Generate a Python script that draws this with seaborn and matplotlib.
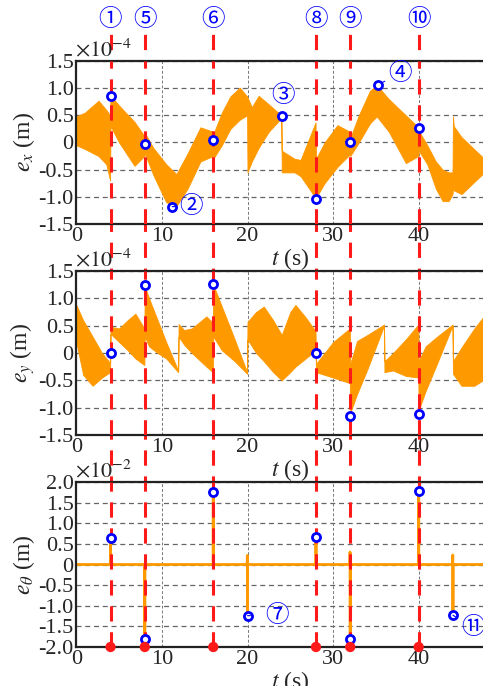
import numpy as np
import pandas as pd
import matplotlib
matplotlib.use("Agg")
import matplotlib.pyplot as plt
import matplotlib.transforms as mtransforms
import seaborn as sns

# switching instants (red dashed lines) and their circled labels
switch_t = [4, 8, 16, 28, 32, 40]
switch_labels = ["①", "⑤", "⑥", "⑧", "⑨", "⑩"]

# e_x band (x1e-4): time, upper envelope, lower envelope
ex_t = [0, 1.0, 2.6, 3.5, 3.95,
        4.0, 5.0, 6.8, 7.95,
        8.0, 9.0, 10.5, 11.7, 13.0, 14.5, 15.95,
        16.0, 17.0, 18.0, 19.1, 19.95,
        20.0, 20.5, 21.3, 22.5, 23.95,
        24.0, 25.5, 26.2, 27.95,
        28.0, 29.0, 30.5, 31.95,
        32.0, 33.0, 34.3, 35.1, 36.5, 38.5, 39.95,
        40.0, 41.0, 42.0, 42.8, 43.5, 43.95,
        44.0, 44.1, 45.0, 46.0, 48.0, 50.0]
ex_hi = [0.48, 0.55, 0.77, 0.6, 0.5,
         0.87, 0.68, 0.38, 0.12,
         0.18, -0.1, -0.4, -0.58, -0.2, 0.28, 0.2,
         0.15, 0.55, 0.85, 1.01, 0.85,
         0.83, 0.65, 0.86, 0.7, 0.5,
         -0.15, -0.3, -0.32, 0.37,
         -0.3, 0.0, 0.32, 0.2,
         0.08, 0.5, 0.95, 1.06, 0.8, 0.5, 0.28,
         0.22, -0.05, -0.35, -0.5, -0.55, -0.55,
         0.48, 0.3, 0.1, -0.05, -0.35, -0.4]
ex_lo = [-0.05, -0.12, -0.25, -0.4, -0.7,
         0.3, 0.0, -0.43, -0.25,
         -0.2, -0.6, -1.1, -1.17, -0.85, -0.35, -0.25,
         -0.3, -0.05, 0.25, 0.42, 0.5,
         -0.55, -0.35, -0.1, 0.2, 0.45,
         -0.55, -0.55, -0.62, -1.02,
         -1.02, -0.75, -0.45, -0.22,
         -0.25, 0.0, 0.35, 0.48, 0.2, -0.38, -0.25,
         -0.15, -0.4, -0.85, -1.08, -1.08, -0.95,
         -0.85, -0.88, -0.95, -0.8, -0.5, -0.45]

# e_y band (x1e-4)
ey_t = [0, 0.8, 1.9, 3.0, 3.95,
        4.0, 5.0, 6.0, 6.9, 7.95,
        8.0, 8.5, 9.5, 10.5, 11.9,
        11.95, 12.6, 13.5, 15.2, 15.95,
        16.0, 17.0, 18.5, 19.95,
        20.0, 21.0, 21.9, 23.0, 24.0, 25.0, 25.6, 26.8, 27.95,
        28.0, 29.0, 30.0, 31.95,
        32.0, 32.8, 34.0, 35.95,
        36.0, 37.0, 38.5, 39.95,
        40.0, 40.8, 42.0, 43.95,
        44.0, 45.0, 46.5, 48.0, 50.0]
ey_hi = [0.88, 0.6, 0.3, 0.0, -0.18,
         0.48, 0.45, 0.6, 0.72, 0.45,
         1.22, 1.0, 0.6, 0.2, -0.32,
         0.53, 0.42, 0.45, 0.67, 0.55,
         1.25, 0.85, 0.25, -0.35,
         0.57, 0.75, 0.85, 0.6, 0.33, 0.75, 0.88, 0.65, 0.4,
         -0.2, 0.0, 0.2, 0.45,
         -0.2, 0.22, 0.33, 0.52,
         -0.15, 0.0, 0.25, 0.52,
         -0.15, 0.12, 0.28, 0.52,
         -0.15, 0.1, 0.45, 0.75, 0.9]
ey_lo = [0.2, -0.4, -0.6, -0.45, -0.35,
         0.35, 0.2, 0.05, -0.1, -0.22,
         0.3, 0.12, 0.0, -0.1, -0.35,
         0.3, 0.15, 0.0, -0.25, -0.35,
         0.3, 0.05, -0.15, -0.38,
         0.25, 0.0, -0.15, -0.35, -0.5, -0.35, -0.25, -0.1, 0.05,
         -0.35, -0.4, -0.45, -0.55,
         -1.1, -0.75, -0.3, 0.5,
         -0.35, -0.32, -0.42, -0.45,
         -1.05, -0.7, -0.25, 0.5,
         -0.38, -0.6, -0.6, -0.45, -0.3]

# e_theta trace (x1e-2)
eth_t = [0, 3.98, 4.0, 4.02, 7.98, 8.0, 8.02, 15.98, 16.0, 16.02,
         19.96, 19.98, 20.0, 20.02, 27.98, 28.0, 28.02,
         31.96, 31.98, 32.0, 32.02, 39.98, 40.0, 40.02,
         43.96, 43.98, 44.0, 44.02, 50.0]
eth_v = [0, 0, 0.65, 0, 0, -1.8, 0, 0, 1.76, 0,
         0, 0.22, -1.24, 0, 0, 0.67, 0,
         0, 0.3, -1.8, 0, 0, 1.77, 0,
         0, 0.23, -1.23, 0, 0]

# blue circle markers
ex_pts_t = [4, 8, 11.2, 16, 24, 28, 32, 35.2, 40]
ex_pts_v = [0.86, -0.02, -1.18, 0.04, 0.49, -1.04, 0.0, 1.06, 0.27]
ey_pts_t = [4, 8, 16, 28, 32, 40]
ey_pts_v = [0.0, 1.24, 1.26, 0.0, -1.15, -1.12]
eth_pts_t = [4, 8, 16, 20, 28, 32, 40, 44]
eth_pts_v = [0.65, -1.81, 1.76, -1.24, 0.67, -1.80, 1.77, -1.23]

# callouts: (label, point t, point v, text t, text v, leader line)
ex_notes = [("②", 11.2, -1.18, 13.4, -1.18, True),
            ("③", 24.0, 0.49, 24.1, 0.87, False),
            ("④", 35.2, 1.06, 37.8, 1.27, True)]
eth_notes = [("⑦", 20.0, -1.24, 23.4, -1.24, True),
             ("⑪", 44.0, -1.23, 46.3, -1.52, True)]

ylab_12 = ["-1.5", "-1.0", "-0.5", "0", "0.5", "1.0", "1.5"]
ylab_3 = ["-2.0", "-1.5", "-1.0", "-0.5", "0", "0.5", "1.0", "1.5", "2.0"]
xticks = [0, 10, 20, 30, 40]

ORANGE = "#ff9900"
BLUE = "#0000ff"
RED = "#ff1a1a"
CJK = ["Noto Sans CJK JP", "DejaVu Sans"]
SERIF = ["Liberation Serif", "DejaVu Serif"]

sns.set_theme(style="white")
plt.rcParams["font.family"] = SERIF
plt.rcParams["mathtext.fontset"] = "stix"

W, H = 483, 686
X0, XW = 76.3, 428.0
fig = plt.figure(figsize=(W / 100, H / 100), dpi=100)


def rect(top_px, bot_px):
    return [X0 / W, 1 - bot_px / H, XW / W, (bot_px - top_px) / H]


# red dashed lines spanning the whole figure (underneath the panels)
ov = fig.add_axes(rect(30, 647), zorder=-1)
ov.set_xlim(0, 50)
ov.set_ylim(0, 1)
ov.axis("off")
ov.vlines(switch_t, 0, 1, colors=RED, lw=2.2, linestyles=(0, (5, 3.5)))
tr = mtransforms.blended_transform_factory(ov.transData, fig.transFigure)
for t, lab in zip(switch_t, switch_labels):
    ov.text(t, 1 - 20 / H, lab, transform=tr, ha="center", va="center",
            color=BLUE, fontsize=17, family=CJK)

panels = [fig.add_axes(rect(61, 224)), fig.add_axes(rect(271, 435)),
          fig.add_axes(rect(482, 647))]


def style(ax, ylim, yticks, ylabels, ylabel, expo):
    ax.set_facecolor("white")
    ax.set_xlim(0, 50)
    ax.set_ylim(*ylim)
    ax.set_xticks(xticks)
    ax.set_xticklabels([str(x) for x in xticks], fontsize=16, family=SERIF)
    ax.set_yticks(yticks)
    ax.set_yticklabels(ylabels, fontsize=16, family=SERIF)
    ax.tick_params(length=0, pad=2)
    ax.yaxis.grid(True, ls=(0, (4, 3)), color="#666666", lw=0.9)
    ax.xaxis.grid(True, ls=(0, (3, 2)), color="#777777", lw=0.7)
    ax.set_axisbelow(True)
    for s in ax.spines.values():
        s.set_color("#222222")
        s.set_linewidth(1.6)
    ax.set_xlabel(r"$t$ (s)", fontsize=17, labelpad=0, family=SERIF)
    ax.set_ylabel(ylabel, fontsize=17, labelpad=1, family=SERIF)
    ax.text(-0.003, 1.0, r"$\times10^{%d}$" % expo, transform=ax.transAxes,
            ha="left", va="bottom", fontsize=16)
    for t in switch_t:
        ax.axvline(t, color=RED, lw=2.2, ls=(0, (5, 3.5)), zorder=3)


def circles(ax, t, v):
    sns.scatterplot(x=t, y=v, ax=ax, marker="o", s=34, facecolor="white",
                    edgecolor=BLUE, linewidth=2, zorder=5, clip_on=False)


def notes(ax, items):
    for lab, pt, pv, tt, tv, line in items:
        ax.annotate(lab, xy=(pt, pv), xytext=(tt, tv), ha="center", va="center",
                    color=BLUE, fontsize=17, family=CJK, zorder=6,
                    arrowprops=dict(arrowstyle="-", color=BLUE, lw=0.8,
                                    shrinkA=8, shrinkB=4) if line else None)


ax1, ax2, ax3 = panels
yt12 = [-1.5, -1.0, -0.5, 0, 0.5, 1.0, 1.5]
style(ax1, (-1.5, 1.5), yt12, ylab_12, r"$e_x$ (m)", -4)
ax1.fill_between(ex_t, ex_lo, ex_hi, color=ORANGE, lw=0.6, zorder=2)
circles(ax1, ex_pts_t, ex_pts_v)
notes(ax1, ex_notes)

style(ax2, (-1.5, 1.5), yt12, ylab_12, r"$e_y$ (m)", -4)
ax2.fill_between(ey_t, ey_lo, ey_hi, color=ORANGE, lw=0.6, zorder=2)
circles(ax2, ey_pts_t, ey_pts_v)

yt3 = [-2.0, -1.5, -1.0, -0.5, 0, 0.5, 1.0, 1.5, 2.0]
style(ax3, (-2.0, 2.0), yt3, ylab_3, r"$e_\theta$ (m)", -2)
sns.lineplot(x=eth_t, y=eth_v, ax=ax3, color=ORANGE, lw=2, estimator=None,
             sort=False, zorder=2)
circles(ax3, eth_pts_t, eth_pts_v)
sns.scatterplot(x=switch_t, y=[-2.0] * len(switch_t), ax=ax3, color=RED,
                s=55, edgecolor="none", zorder=6, clip_on=False)
notes(ax3, eth_notes)

fig.savefig("out.png", dpi=100)
